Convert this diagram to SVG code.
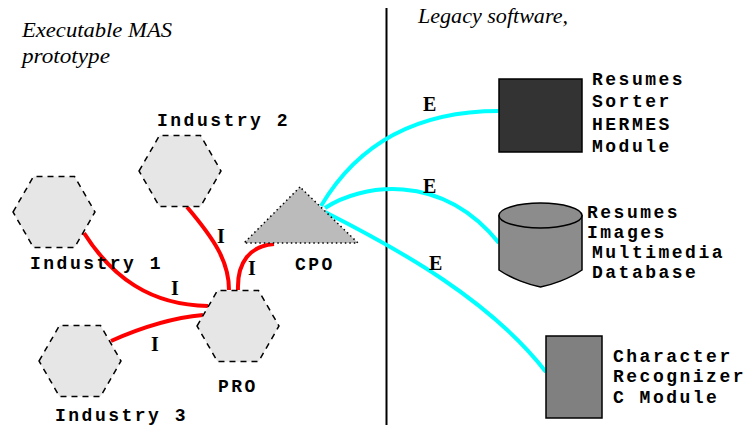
<svg xmlns="http://www.w3.org/2000/svg" width="747" height="425" viewBox="0 0 747 425">
<style>
.mono{font-family:"Liberation Mono","DejaVu Sans Mono",monospace;font-weight:bold;font-size:18px;letter-spacing:2.5px;fill:#000}
.lbl{font-family:"Liberation Serif","Times New Roman",serif;font-weight:bold;font-size:20px;fill:#000}
.hdr{font-family:"Liberation Serif","Times New Roman",serif;font-style:italic;font-size:20px;fill:#000}
.hex{fill:#e6e6e6;stroke:#000;stroke-width:1.5;stroke-dasharray:6 5}
.red{fill:none;stroke:#ff0000;stroke-width:4}
.cyan{fill:none;stroke:#00ffff;stroke-width:4}
</style>
<rect width="747" height="425" fill="#fff"/>
<line x1="386.5" y1="8" x2="386.5" y2="425" stroke="#000" stroke-width="2"/>
<text class="hdr" x="22" y="37" textLength="150" lengthAdjust="spacingAndGlyphs">Executable MAS</text>
<text class="hdr" x="22" y="63" textLength="88" lengthAdjust="spacingAndGlyphs">prototype</text>
<text class="hdr" x="418" y="23" textLength="150" lengthAdjust="spacingAndGlyphs">Legacy software,</text>
<g id="connectors">
<path class="red" d="M187,207 C215,240 229,262 229,290"/>
<path class="red" d="M274,244 C250,246 237,262 238,290"/>
<path class="red" d="M84,233 C112,277 150,305 208,306"/>
<path class="red" d="M111,341 C140,328 170,318 203,315"/>
<path class="cyan" d="M321,206 C360,140 420,111 499,111"/>
<path class="cyan" d="M325,208 C360,185 440,170 499,243"/>
<path class="cyan" d="M325,212 C400,250 490,300 546,372"/>
<text class="lbl" x="217" y="243">I</text>
<text class="lbl" x="248" y="275">I</text>
<text class="lbl" x="171" y="295">I</text>
<text class="lbl" x="151" y="351">I</text>
<text class="lbl" x="423" y="111">E</text>
<text class="lbl" x="423" y="193">E</text>
<text class="lbl" x="429" y="270">E</text>
</g>
<g id="industry2">
<polygon class="hex" points="139,171 159.5,135.5 200.5,135.5 221,171 200.5,206.5 159.5,206.5"/>
<text class="mono" x="157" y="126">Industry 2</text>
</g>
<g id="industry1">
<polygon class="hex" points="13,212 33.5,176.5 74.5,176.5 95,212 74.5,247.5 33.5,247.5"/>
<text class="mono" x="30" y="269">Industry 1</text>
</g>
<g id="industry3">
<polygon class="hex" points="39,361 59.5,325.5 100.5,325.5 121,361 100.5,396.5 59.5,396.5"/>
<text class="mono" x="55" y="421">Industry 3</text>
</g>
<g id="pro">
<polygon class="hex" points="197,326 217.5,290.5 258.5,290.5 279,326 258.5,361.5 217.5,361.5"/>
<text class="mono" x="218" y="392">PRO</text>
</g>
<g id="cpo">
<polygon points="300,187 244,243 358,243" fill="#bbbbbb" stroke="#000" stroke-width="1.5" stroke-dasharray="1.5 3"/>
<text class="mono" x="295" y="270">CPO</text>
</g>
<g id="sorter">
<rect x="499" y="79" width="83" height="73" fill="#333333" stroke="#000" stroke-width="1.5"/>
<text class="mono" x="592" y="85">Resumes</text>
<text class="mono" x="592" y="107">Sorter</text>
<text class="mono" x="592" y="130">HERMES</text>
<text class="mono" x="592" y="152">Module</text>
</g>
<g id="database">
<path d="M499,215.5 L499,270 C512,279 530,285 540.5,287 C551,285 569,279 582,270 L582,215.5 Z" fill="#8c8c8c" stroke="#000" stroke-width="1.5"/>
<ellipse cx="540.5" cy="215.5" rx="41.5" ry="12.5" fill="#8c8c8c" stroke="#000" stroke-width="1.5"/>
<text class="mono" x="587" y="218">Resumes</text>
<text class="mono" x="587" y="238">Images</text>
<text class="mono" x="592" y="258">Multimedia</text>
<text class="mono" x="592" y="278">Database</text>
</g>
<g id="recognizer">
<rect x="546" y="336" width="56" height="82" fill="#808080" stroke="#000" stroke-width="1.5"/>
<text class="mono" x="613" y="362">Character</text>
<text class="mono" x="613" y="382">Recognizer</text>
<text class="mono" x="613" y="403">C Module</text>
</g>
</svg>
